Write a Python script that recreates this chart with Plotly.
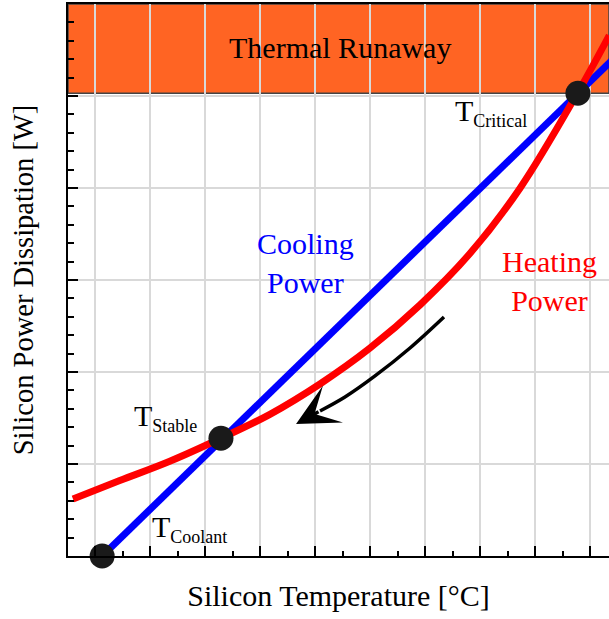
import plotly.graph_objects as go

# ---- data (x: gridline units, y: gridline units) ----
cool_x = [0.13, 9.40]
cool_y = [0.00, 5.39]

heat_x = [-0.40, 0.45, 1.36, 2.29, 3.18, 4.09, 5.00, 5.91, 6.82, 7.73, 8.78, 9.35]
heat_y = [0.62, 0.82, 1.03, 1.28, 1.54, 1.87, 2.26, 2.73, 3.29, 4.00, 5.04, 5.66]

pts_x = [0.13, 2.29, 8.78]
pts_y = [0.00, 1.28, 5.03]

arrow_x = [6.345, 5.727, 5.091, 4.545, 4.091]
arrow_y = [2.598, 2.261, 1.957, 1.728, 1.576]
arrow_tip = (3.655, 1.435)

runaway_y = [5.03, 6.0]

X_RANGE = [-0.4909, 9.345]
Y_RANGE = [0, 6]

FONT = "Liberation Serif, Times New Roman, Times, serif"

fig = go.Figure()

# thermal runaway band
fig.add_shape(type="rect", xref="paper", x0=0, x1=1, y0=runaway_y[0], y1=runaway_y[1],
              fillcolor="rgb(255,100,35)", line=dict(color="#444444", width=1.5), layer="below")

fig.add_trace(go.Scatter(x=cool_x, y=cool_y, mode="lines",
                         line=dict(color="#0000ff", width=7), showlegend=False, hoverinfo="skip"))
fig.add_trace(go.Scatter(x=heat_x, y=heat_y, mode="lines", line_shape="spline",
                         line=dict(color="#ff0000", width=7), showlegend=False, hoverinfo="skip"))
fig.add_trace(go.Scatter(x=arrow_x, y=arrow_y, mode="lines", line_shape="spline",
                         line=dict(color="black", width=3.5), showlegend=False, hoverinfo="skip"))
fig.add_trace(go.Scatter(x=pts_x, y=pts_y, mode="markers", cliponaxis=False,
                         marker=dict(color="#1a1a1a", size=25), showlegend=False, hoverinfo="skip"))

fig.add_annotation(x=arrow_tip[0], y=arrow_tip[1], ax=arrow_x[-1], ay=arrow_y[-1],
                   xref="x", yref="y", axref="x", ayref="y", text="", showarrow=True,
                   arrowhead=3, arrowsize=2.0, arrowwidth=3.5, arrowcolor="black", standoff=0)

def txt(x, y, s, color="black", size=30, xanchor="center", yanchor="middle"):
    fig.add_annotation(x=x, y=y, xref="x", yref="y", text=s, showarrow=False,
                       font=dict(family=FONT, size=size, color=color),
                       xanchor=xanchor, yanchor=yanchor)

txt(4.4545, 5.53, "Thermal Runaway")
txt(3.818, 3.18, "Cooling<br>Power", color="#0000ff")
txt(8.264, 2.99, "Heating<br>Power", color="#ff0000")
SUB = '<sub><span style="font-size:18px">%s</span></sub>'
txt(0.68, 1.51, "T" + SUB % "Stable", xanchor="left")
txt(6.50, 4.82, "T" + SUB % "Critical", xanchor="left")
txt(1.00, 0.30, "T" + SUB % "Coolant", xanchor="left")

axis_common = dict(showticklabels=False, showline=True, linecolor="black", linewidth=2,
                   showgrid=True, gridcolor="#d9d9d9", gridwidth=1.5, zeroline=False,
                   ticks="inside", tickcolor="black", tickwidth=1.5, ticklen=10, dtick=1, tick0=0)

fig.update_xaxes(range=X_RANGE, mirror=True, **axis_common,
                 minor=dict(ticks="inside", ticklen=5, tickcolor="black", tickwidth=1.5, nticks=4, showgrid=False),
                 title=dict(text="Silicon Temperature [°C]", font=dict(family=FONT, size=30, color="black"), standoff=28))
fig.update_yaxes(range=Y_RANGE, **axis_common,
                 minor=dict(ticks="inside", ticklen=6, tickcolor="black", tickwidth=1.5, nticks=5, showgrid=False),
                 title=dict(text="Silicon Power Dissipation [W]", font=dict(family=FONT, size=28.5, color="black"), standoff=24))

fig.update_layout(width=609, height=619, margin=dict(l=68, r=0, t=4, b=63),
                  plot_bgcolor="white", paper_bgcolor="white", showlegend=False,
                  font=dict(family=FONT))

fig.write_html("out.html")
